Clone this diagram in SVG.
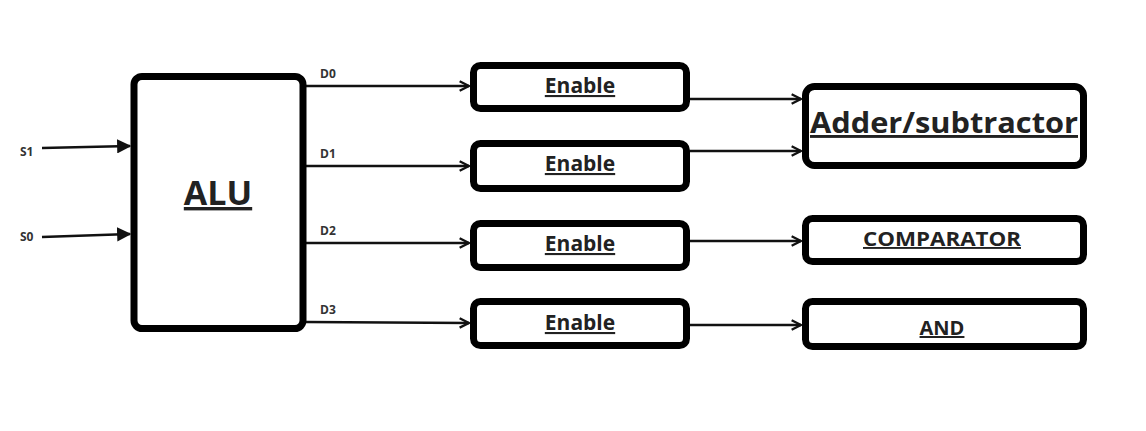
<svg xmlns="http://www.w3.org/2000/svg" width="1146" height="431" viewBox="0 0 1146 431">
<style>
.box{fill:#fff;stroke:#000;stroke-width:7}
.wire{fill:none;stroke:#111;stroke-width:2.6}
.lbl{font-family:"Open Sans","Liberation Sans",sans-serif;font-weight:bold;fill:#222;text-decoration:underline}
.pin{font-family:"Open Sans","Liberation Sans",sans-serif;font-weight:bold;font-size:12px;fill:#333}
</style>
<defs>
<marker id="tri" viewBox="0 0 10 10" refX="9" refY="5" markerWidth="5.5" markerHeight="5.5" orient="auto" markerUnits="strokeWidth">
<path d="M0,0 L10,5 L0,10 Z" fill="#111"/>
</marker>
<marker id="chev" viewBox="0 0 10 10" refX="9" refY="5" markerWidth="4.5" markerHeight="4.5" orient="auto" markerUnits="strokeWidth">
<path d="M1,1 L9,5 L1,9" fill="none" stroke="#111" stroke-width="2"/>
</marker>
</defs>
<rect width="1146" height="431" fill="#fff"/>
<g id="connectors">
<line class="wire" x1="42" y1="148" x2="130" y2="146" marker-end="url(#tri)"/>
<line class="wire" x1="42" y1="237" x2="130" y2="234" marker-end="url(#tri)"/>
<line class="wire" x1="306" y1="86" x2="469" y2="86" marker-end="url(#chev)"/>
<line class="wire" x1="306" y1="166" x2="469" y2="166" marker-end="url(#chev)"/>
<line class="wire" x1="306" y1="243" x2="469" y2="243" marker-end="url(#chev)"/>
<line class="wire" x1="306" y1="322" x2="469" y2="323" marker-end="url(#chev)"/>
<line class="wire" x1="690" y1="99" x2="801" y2="99" marker-end="url(#chev)"/>
<line class="wire" x1="690" y1="151" x2="801" y2="151" marker-end="url(#chev)"/>
<line class="wire" x1="690" y1="241" x2="801" y2="241" marker-end="url(#chev)"/>
<line class="wire" x1="690" y1="325" x2="801" y2="325" marker-end="url(#chev)"/>
<text class="pin" x="20" y="156">S1</text>
<text class="pin" x="20" y="241">S0</text>
<text class="pin" x="320" y="78">D0</text>
<text class="pin" x="320" y="158">D1</text>
<text class="pin" x="320" y="235">D2</text>
<text class="pin" x="320" y="314">D3</text>
</g>
<g id="alu">
<rect class="box" x="134" y="76.5" width="169" height="252" rx="8"/>
<text class="lbl" x="218" y="205" font-size="34" text-anchor="middle">ALU</text>
</g>
<g id="enable0">
<rect class="box" x="473.5" y="65.5" width="213" height="43" rx="7"/>
<text class="lbl" x="580" y="93" font-size="21" text-anchor="middle">Enable</text>
</g>
<g id="enable1">
<rect class="box" x="473.5" y="143.5" width="213" height="45" rx="7"/>
<text class="lbl" x="580" y="171" font-size="21" text-anchor="middle">Enable</text>
</g>
<g id="enable2">
<rect class="box" x="473.5" y="223.5" width="213" height="44" rx="7"/>
<text class="lbl" x="580" y="251" font-size="21" text-anchor="middle">Enable</text>
</g>
<g id="enable3">
<rect class="box" x="473.5" y="301.5" width="213" height="44" rx="7"/>
<text class="lbl" x="580" y="330" font-size="21" text-anchor="middle">Enable</text>
</g>
<g id="adder">
<rect class="box" x="805.5" y="86.5" width="278" height="79" rx="9"/>
<text class="lbl" x="944" y="133" font-size="29" text-anchor="middle" textLength="268" lengthAdjust="spacingAndGlyphs">Adder/subtractor</text>
</g>
<g id="comparator">
<rect class="box" x="805.5" y="218.5" width="278" height="43" rx="7"/>
<text class="lbl" x="942" y="246" font-size="19" text-anchor="middle" textLength="158" lengthAdjust="spacingAndGlyphs">COMPARATOR</text>
</g>
<g id="and">
<rect class="box" x="805.5" y="301.5" width="278" height="45" rx="7"/>
<text class="lbl" x="942" y="335" font-size="20" text-anchor="middle">AND</text>
</g>
</svg>
